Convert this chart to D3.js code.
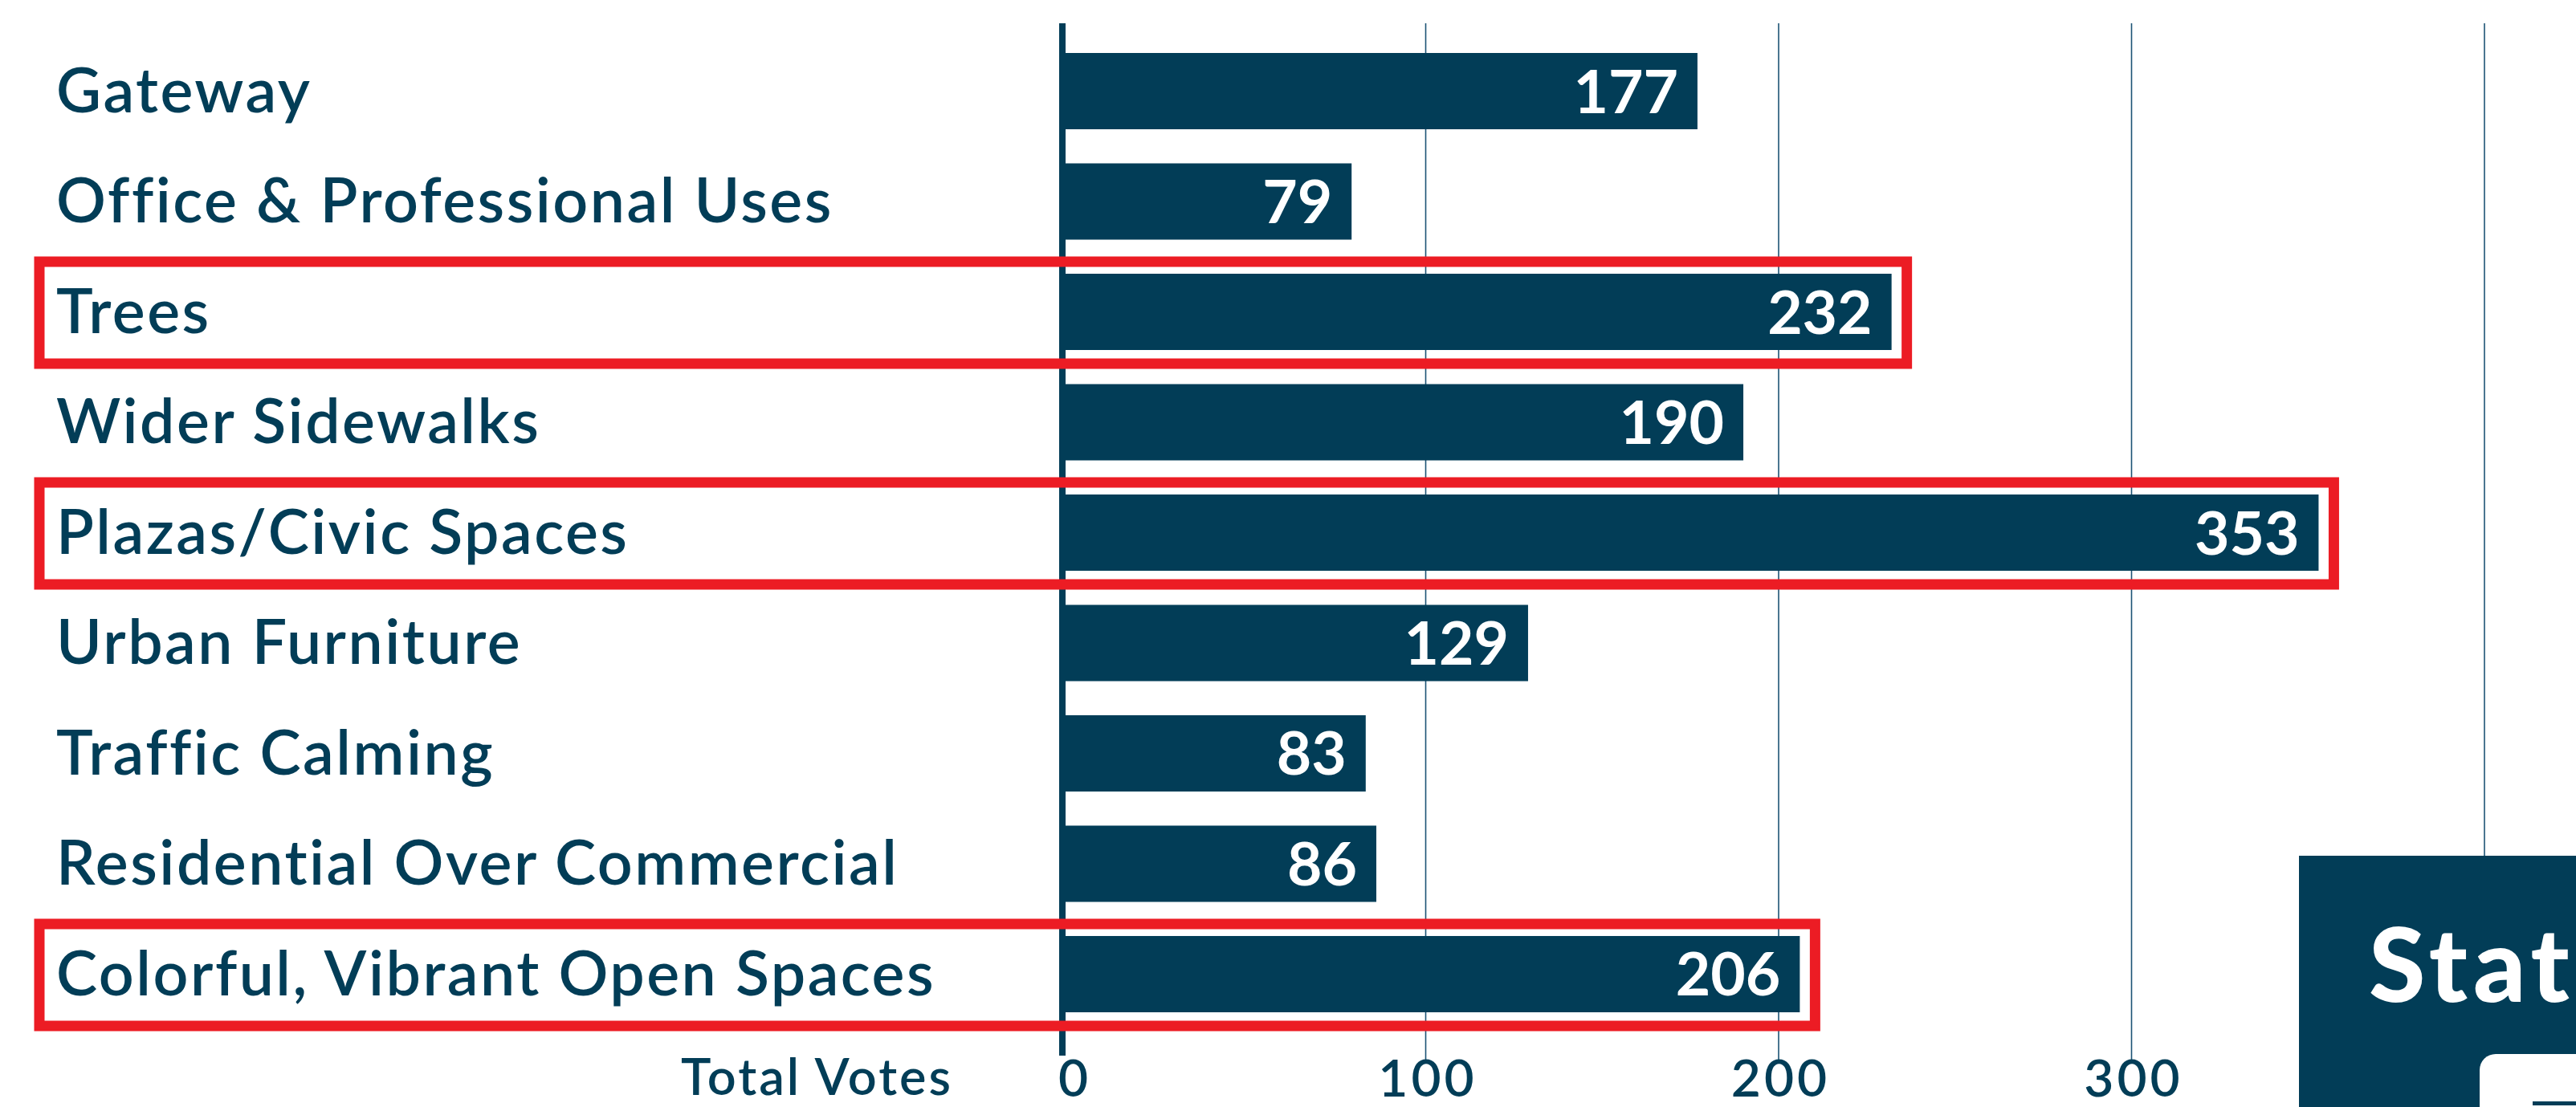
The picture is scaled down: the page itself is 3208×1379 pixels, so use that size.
<!DOCTYPE html>
<html>
<head>
<meta charset="utf-8">
<script src="https://cdn.jsdelivr.net/npm/d3@7"></script>
<style>
  html, body { margin: 0; padding: 0; background: #fff; }
  svg { display: block; }
</style>
</head>
<body>
<main></main>
<script>
// chart values
const categories = [
    "Gateway",
    "Office & Professional Uses",
    "Trees",
    "Wider Sidewalks",
    "Plazas/Civic Spaces",
    "Urban Furniture",
    "Traffic Calming",
    "Residential Over Commercial",
    "Colorful, Vibrant Open Spaces"
]
const votes = [177, 79, 232, 190, 353, 129, 83, 86, 206]
const highlighted = ["Trees", "Plazas/Civic Spaces", "Colorful, Vibrant Open Spaces"]
const tickValues = [0, 100, 200, 300, 400]
const axisTitle = "Total Votes"
const panelTitle = "Statistics"

const sizeOfSVG = {
    width: 3208,
    height: 1379
}

const navy = "#023d57"
const red = "#ec1c24"
const font = "Lato, 'Open Sans', sans-serif"

const data = categories.map((c, i) => ({ name: c, value: votes[i] }))

const svg = d3.select('main')
    .append('svg')
    .attr('width', sizeOfSVG.width)
    .attr('height', sizeOfSVG.height)

svg.append('rect')
    .attr('width', sizeOfSVG.width)
    .attr('height', sizeOfSVG.height)
    .attr('fill', '#fff')

// scales
const xScale = d3.scaleLinear()
    .domain([0, 400])
    .range([1336, 3094])

const yScale = d3.scaleBand()
    .domain(categories)
    .range([66, 1261])
    .paddingInner(0.309)
    .paddingOuter(0)

const axisX = xScale(0) - 13
const plotTop = 29
const plotBottom = 1324

// grid lines
svg.append('g')
    .selectAll('line')
    .data(tickValues.filter(d => d > 0))
    .enter()
    .append('line')
    .attr('x1', d => xScale(d))
    .attr('x2', d => xScale(d))
    .attr('y1', plotTop)
    .attr('y2', plotBottom)
    .attr('stroke', '#1d5475')
    .attr('stroke-width', 1.6)

// tick labels through d3 axis
const xAxis = d3.axisBottom(xScale)
    .tickValues(tickValues)
    .tickSize(0)
    .tickPadding(0)

const axisG = svg.append('g')
    .attr('transform', 'translate(0,' + 1366 + ')')
    .call(xAxis)
axisG.select('.domain').remove()
axisG.selectAll('text')
    .attr('y', 0)
    .attr('dy', 0)
    .attr('dx', 2)
    .attr('fill', navy)
    .style('font-family', font)
    .style('font-size', '64px')
    .style('font-weight', 600)
    .style('letter-spacing', '4px')

svg.append('text')
    .attr('x', 1187)
    .attr('y', 1364)
    .attr('text-anchor', 'end')
    .attr('fill', navy)
    .style('font-family', font)
    .style('font-size', '63px')
    .style('font-weight', 600)
    .style('letter-spacing', '3px')
    .text(axisTitle)

// bars
svg.append('g')
    .selectAll('rect')
    .data(data)
    .enter()
    .append('rect')
    .attr('x', axisX + 4)
    .attr('y', d => yScale(d.name))
    .attr('width', d => xScale(d.value) - axisX - 4)
    .attr('height', yScale.bandwidth())
    .attr('fill', navy)

// baseline axis
svg.append('line')
    .attr('x1', axisX)
    .attr('x2', axisX)
    .attr('y1', plotTop)
    .attr('y2', 1315)
    .attr('stroke', navy)
    .attr('stroke-width', 8)

// category labels
svg.append('g')
    .selectAll('text')
    .data(data)
    .enter()
    .append('text')
    .attr('x', 70)
    .attr('y', d => yScale(d.name) + yScale.bandwidth() / 2)
    .attr('dy', '0.34em')
    .attr('fill', navy)
    .style('font-family', font)
    .style('font-size', '77px')
    .style('font-weight', 600)
    .style('letter-spacing', '2.5px')
    .text(d => d.name)

// value labels
svg.append('g')
    .selectAll('text')
    .data(data)
    .enter()
    .append('text')
    .attr('x', d => xScale(d.value) - 24)
    .attr('y', d => yScale(d.name) + yScale.bandwidth() / 2)
    .attr('dy', '0.36em')
    .attr('text-anchor', 'end')
    .attr('fill', '#fff')
    .style('font-family', font)
    .style('font-size', '75px')
    .style('font-weight', 700)
    .text(d => d.value)

// red highlight boxes
svg.append('g')
    .selectAll('rect')
    .data(data.filter(d => highlighted.includes(d.name)))
    .enter()
    .append('rect')
    .attr('x', 49)
    .attr('y', d => yScale(d.name) - 15)
    .attr('width', d => xScale(d.value) + 19 - 49)
    .attr('height', yScale.bandwidth() + 32)
    .attr('fill', 'none')
    .attr('stroke', red)
    .attr('stroke-width', 13)

// panel in the corner (cut off by the page edge)
const panel = svg.append('g')
panel.append('rect')
    .attr('x', 2863)
    .attr('y', 1066)
    .attr('width', sizeOfSVG.width - 2863)
    .attr('height', sizeOfSVG.height - 1066)
    .attr('fill', navy)
panel.append('text')
    .attr('x', 2950)
    .attr('y', 1248)
    .attr('fill', '#fff')
    .style('font-family', font)
    .style('font-size', '128px')
    .style('font-weight', 900)
    .style('letter-spacing', '7px')
    .text(panelTitle)
panel.append('rect')
    .attr('x', 3088)
    .attr('y', 1313)
    .attr('width', 200)
    .attr('height', 150)
    .attr('rx', 20)
    .attr('fill', '#fff')
panel.append('rect')
    .attr('x', 3154)
    .attr('y', 1372)
    .attr('width', 60)
    .attr('height', 5)
    .attr('fill', navy)
</script>
</body>
</html>
